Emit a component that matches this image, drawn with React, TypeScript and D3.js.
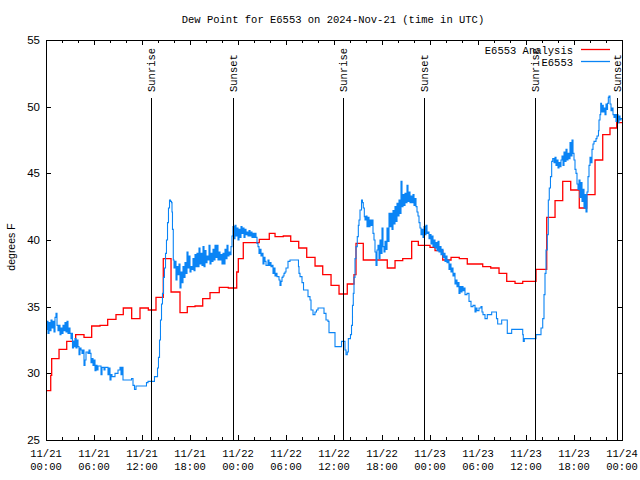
import React from "react";
import * as d3 from "d3";

const TITLE = "Dew Point for E6553 on 2024-Nov-21 (time in UTC)";
const Y_LABEL = "degrees F";
const SERIES_NAMES = ["E6553 Analysis", "E6553"];
const SERIES_COLORS = ["#ff0000", "#0a84f5"];

// hours since 2024-11-21 00:00 UTC
const X_DOMAIN = [0, 72];
const Y_DOMAIN = [25, 55];
const Y_TICKS = [25, 30, 35, 40, 45, 50, 55];
const X_LABEL_HOURS = [0, 6, 12, 18, 24, 30, 36, 42, 48, 54, 60, 66, 72];
const X_LABEL_DAYS = ["11/21", "11/21", "11/21", "11/21", "11/22", "11/22", "11/22", "11/22", "11/23", "11/23", "11/23", "11/23", "11/24"];
const X_LABEL_TIMES = ["00:00", "06:00", "12:00", "18:00", "00:00", "06:00", "12:00", "18:00", "00:00", "06:00", "12:00", "18:00", "00:00"];

const SUN_LABELS = ["Sunrise", "Sunset", "Sunrise", "Sunset", "Sunrise", "Sunset"];
const SUN_HOURS = [13.125, 23.35, 37.16, 47.29, 61.17, 71.33];

// Analysis (step) : [hour, value]
const analysis: [number, number][] = [
  [0, 28.7], [0.59, 29.85], [0.71, 31.1], [1.63, 31.8], [2.59, 32.4], [3.71, 32.9],
  [4.75, 32.7], [5.71, 33.55], [6.75, 33.6], [7.71, 34.05], [8.75, 34.4], [9.66, 34.9],
  [10.71, 34.1], [11.75, 34.9], [12.79, 34.75], [13.75, 35.7], [14.66, 38.6], [15.63, 36.1],
  [16.75, 34.55], [17.66, 35.0], [18.63, 35.05], [19.59, 35.6], [20.5, 36.05], [21.66, 36.45],
  [22.79, 36.4], [23.84, 37.6], [24.04, 38.6], [24.66, 39.8], [26.66, 40.05], [27.91, 40.5],
  [28.63, 40.25], [29.66, 40.3], [30.59, 39.9], [31.59, 39.4], [32.59, 38.7], [33.63, 38.05],
  [34.59, 37.4], [35.63, 36.6], [36.63, 35.95], [37.66, 36.7], [38.5, 37.4], [38.75, 39.75],
  [39.66, 38.5], [42.66, 37.9], [43.63, 38.45], [44.59, 38.6], [45.71, 39.9], [46.54, 39.6],
  [48.0, 39.45], [48.63, 39.2], [49.59, 38.5], [50.63, 38.7], [51.66, 38.6], [52.66, 38.2],
  [54.59, 38.0], [55.59, 37.9], [56.63, 37.5], [57.59, 36.9], [58.63, 36.75], [59.59, 36.9],
  [61.25, 37.8], [62.59, 41.7], [63.63, 42.95], [64.59, 44.4], [65.59, 43.75], [66.66, 42.4],
  [67.59, 43.4], [68.63, 46.0], [69.59, 47.9], [70.5, 48.4], [71.34, 48.8], [72, 48.8],
];

// Observations : [hour, value]
const observed: [number, number][] = [
  [0, 33.3], [0.125, 33.9], [0.25, 33.0], [0.375, 33.8], [0.5, 33.2], [0.625, 34.0], [0.75, 33.4],
  [0.875, 33.9], [1.0, 33.1], [1.125, 34.2], [1.25, 34.5], [1.375, 33.6], [1.5, 33.2], [1.625, 33.6],
  [1.75, 32.9], [1.875, 33.4], [2.0, 33.0], [2.125, 33.6], [2.25, 33.2], [2.375, 33.8], [2.5, 33.1],
  [2.625, 33.9], [2.75, 33.0], [2.875, 33.4], [3.0, 33.0], [3.125, 32.6], [3.25, 33.0], [3.31, 31.9],
  [3.44, 32.4], [3.5, 32.0], [3.625, 32.6], [3.75, 31.9], [3.875, 32.5], [4.0, 32.0], [4.125, 31.4],
  [4.25, 31.9], [4.375, 31.75], [4.5, 31.5], [4.625, 31.75], [4.75, 30.6], [4.875, 31.0], [5.0, 31.6],
  [5.25, 31.5], [5.375, 31.75], [5.5, 31.5], [5.625, 30.8], [5.75, 31.1], [5.875, 30.6], [6.0, 31.0],
  [6.125, 30.2], [6.25, 30.6], [6.375, 30.25], [6.5, 30.55], [6.875, 29.9], [7.0, 30.45], [7.25, 30.25],
  [7.375, 30.45], [7.75, 29.9], [7.875, 30.4], [8.0, 29.5], [8.125, 29.9], [8.25, 29.75], [8.625, 30.0],
  [9.0, 30.25], [9.25, 30.45], [9.375, 29.9], [9.5, 30.45], [9.625, 29.5], [10.69, 29.6], [10.875, 29.1],
  [11.06, 28.8], [11.25, 29.05], [12.56, 29.3], [12.75, 29.4], [13.56, 29.75], [13.94, 30.4], [14.06, 31.2],
  [14.19, 32.5], [14.31, 34.0], [14.44, 35.2], [14.56, 36.0], [14.69, 37.2], [14.81, 37.9], [14.94, 39.0],
  [15.06, 40.0], [15.19, 41.3], [15.31, 42.4], [15.44, 43.0], [15.56, 42.9], [15.69, 42.8], [15.75, 42.1],
  [15.81, 40.8], [15.91, 38.5], [16.0, 37.9], [16.125, 38.4], [16.25, 37.0], [16.375, 38.0], [16.5, 37.4],
  [16.625, 38.2], [16.75, 36.4], [16.875, 37.6], [17.0, 36.8], [17.125, 38.0], [17.25, 37.2], [17.375, 38.3],
  [17.5, 37.5], [17.625, 39.1], [17.75, 37.9], [17.875, 38.8], [18.0, 37.6], [18.125, 38.0], [18.25, 37.8],
  [18.375, 38.6], [18.5, 37.7], [18.625, 38.9], [18.75, 38.0], [18.875, 39.0], [19.0, 38.0], [19.125, 39.4],
  [19.25, 38.2], [19.375, 39.0], [19.5, 38.1], [19.625, 39.5], [19.75, 38.0], [19.875, 39.2], [20.0, 38.3],
  [20.125, 38.8], [20.25, 38.5], [20.375, 39.6], [20.5, 38.2], [20.625, 39.0], [20.75, 38.4], [20.875, 39.3],
  [21.0, 38.5], [21.125, 39.6], [21.25, 38.7], [21.375, 39.6], [21.5, 38.5], [21.625, 39.1], [21.75, 38.5],
  [21.875, 38.9], [22.0, 38.2], [22.125, 39.0], [22.25, 38.2], [22.375, 39.3], [22.5, 38.6], [22.625, 39.6],
  [22.75, 38.8], [22.875, 39.1], [23.0, 38.9], [23.125, 39.5], [23.25, 40.3], [23.375, 41.0], [23.5, 40.1],
  [23.625, 41.1], [23.75, 40.3], [23.875, 40.9], [24.0, 40.0], [24.125, 40.8], [24.25, 40.2], [24.375, 41.0],
  [24.5, 40.5], [24.625, 40.9], [24.75, 40.2], [24.875, 40.8], [25.0, 40.4], [25.125, 40.6], [25.25, 40.3],
  [25.375, 40.7], [25.5, 40.3], [25.625, 40.6], [25.75, 40.2], [25.875, 40.5], [26.0, 40.2], [26.125, 40.5],
  [26.25, 40.2], [26.375, 39.75], [26.5, 39.5], [26.625, 39.0], [26.75, 39.3], [26.875, 38.8], [27.0, 39.0],
  [27.125, 38.2], [27.25, 38.7], [27.375, 38.4], [27.5, 38.1], [27.75, 38.5], [27.875, 38.1], [28.0, 38.3],
  [28.125, 38.0], [28.25, 38.1], [28.375, 37.5], [28.5, 37.9], [28.625, 37.3], [28.75, 37.5], [28.875, 37.25],
  [29.125, 37.0], [29.25, 36.6], [29.375, 36.9], [29.5, 37.2], [29.625, 37.3], [29.75, 37.5], [29.875, 37.6],
  [30.0, 37.9], [30.25, 38.4], [30.5, 38.5], [31.56, 38.0], [31.625, 37.5], [31.75, 37.25], [32.0, 36.8],
  [32.19, 36.25], [32.75, 35.75], [33.0, 35.5], [33.125, 34.75], [33.375, 34.4], [33.625, 34.6], [33.81, 34.75],
  [34.0, 34.9], [34.75, 34.5], [35.0, 34.0], [35.25, 33.9], [35.375, 33.05], [36.125, 32.0], [36.94, 32.4],
  [37.375, 31.75], [37.5, 31.4], [37.66, 31.6], [37.79, 32.6], [38.06, 32.9], [38.19, 33.6], [38.31, 35.1],
  [38.41, 36.0], [38.5, 37.2], [38.625, 38.6], [38.75, 39.5], [38.91, 40.25], [39.04, 41.1], [39.125, 41.5],
  [39.25, 42.25], [39.44, 43.0], [39.56, 42.8], [39.66, 42.4], [39.79, 41.75], [39.875, 41.5], [40.0, 41.8],
  [40.125, 41.0], [40.25, 41.7], [40.375, 41.0], [40.5, 41.5], [40.625, 41.1], [40.75, 41.5], [40.875, 40.5],
  [41.0, 40.0], [41.125, 39.1], [41.25, 38.1], [41.375, 39.25], [41.5, 39.6], [41.625, 38.6], [41.75, 40.0],
  [41.875, 39.0], [42.0, 40.9], [42.125, 39.5], [42.25, 39.1], [42.375, 39.9], [42.5, 39.3], [42.625, 40.9],
  [42.75, 39.9], [42.875, 42.0], [43.0, 41.0], [43.125, 42.0], [43.25, 40.8], [43.375, 42.2], [43.5, 41.2],
  [43.625, 42.5], [43.75, 41.4], [43.875, 42.75], [44.0, 41.8], [44.125, 43.0], [44.25, 42.0], [44.375, 44.4],
  [44.5, 42.5], [44.625, 43.4], [44.75, 42.6], [44.875, 43.5], [45.0, 42.8], [45.125, 44.1], [45.25, 42.9],
  [45.375, 43.6], [45.5, 42.8], [45.625, 43.3], [45.75, 42.8], [45.875, 43.4], [46.0, 42.6], [46.125, 43.1],
  [46.25, 42.5], [46.375, 42.1], [46.5, 41.8], [46.625, 41.3], [46.75, 40.9], [46.875, 40.4], [47.0, 40.8],
  [47.125, 40.2], [47.25, 41.0], [47.375, 40.4], [47.5, 41.1], [47.625, 40.5], [47.75, 40.6], [47.875, 40.1],
  [48.0, 40.4], [48.125, 39.7], [48.25, 40.3], [48.375, 39.5], [48.5, 40.0], [48.625, 39.4], [48.75, 39.8],
  [48.875, 39.2], [49.0, 39.9], [49.125, 39.1], [49.25, 39.5], [49.375, 38.9], [49.5, 39.3], [49.625, 38.7],
  [49.75, 39.0], [49.875, 38.4], [50.0, 38.8], [50.125, 38.3], [50.25, 38.5], [50.375, 37.8], [50.5, 38.2],
  [50.625, 37.6], [50.75, 37.9], [50.875, 37.3], [51.0, 37.5], [51.125, 36.7], [51.25, 37.0], [51.375, 36.5],
  [51.5, 36.8], [51.625, 36.0], [51.75, 36.5], [51.875, 36.1], [52.0, 36.5], [52.125, 36.2], [52.25, 36.4],
  [52.375, 35.9], [52.625, 36.0], [52.875, 35.4], [53.125, 35.0], [53.375, 35.1], [53.625, 34.6], [53.75, 34.9],
  [53.875, 34.7], [54.125, 34.9], [54.375, 35.0], [54.5, 34.6], [54.625, 34.4], [54.875, 34.1], [55.16, 34.4],
  [55.71, 34.6], [56.31, 34.1], [56.46, 33.7], [56.96, 34.0], [57.66, 33.0], [58.21, 33.3], [59.59, 32.9],
  [59.66, 32.4], [59.79, 32.6], [61.25, 32.9], [61.875, 33.4], [62.09, 34.1], [62.25, 35.9], [62.375, 37.5],
  [62.5, 39.25], [62.66, 40.4], [62.79, 43.0], [62.91, 43.9], [63.06, 44.75], [63.21, 45.9], [63.34, 46.1],
  [63.5, 45.8], [63.625, 46.2], [63.75, 45.6], [63.875, 46.0], [64.0, 45.4], [64.125, 45.8], [64.25, 45.5],
  [64.375, 46.0], [64.5, 46.3], [64.625, 45.6], [64.75, 46.6], [64.875, 45.9], [65.0, 46.8], [65.125, 46.0],
  [65.25, 46.5], [65.375, 46.1], [65.5, 47.3], [65.625, 46.3], [65.75, 47.5], [65.875, 46.5], [66.0, 46.0],
  [66.125, 45.3], [66.25, 45.0], [66.375, 44.2], [66.5, 43.8], [66.625, 44.5], [66.75, 43.2], [66.875, 44.3],
  [67.0, 42.9], [67.125, 43.8], [67.25, 42.4], [67.375, 43.4], [67.5, 42.1], [67.625, 43.6], [67.75, 44.75],
  [67.875, 45.6], [68.0, 46.2], [68.125, 45.8], [68.25, 46.8], [68.375, 47.2], [68.5, 47.4], [68.75, 47.6],
  [68.875, 47.8], [69.06, 48.2], [69.125, 49.0], [69.25, 49.4], [69.34, 50.25], [69.44, 49.6], [69.56, 50.1],
  [69.66, 49.6], [69.75, 49.9], [69.875, 49.4], [70.0, 50.2], [70.125, 49.8], [70.19, 50.25], [70.29, 50.7],
  [70.375, 50.8], [70.5, 50.2], [70.625, 49.7], [70.75, 49.9], [70.875, 49.4], [71.0, 49.2], [71.125, 49.4],
  [71.25, 48.9], [71.375, 49.4], [71.5, 48.8], [71.625, 49.3], [71.75, 49.0], [71.875, 49.1], [72, 49.1],
];

const W = 640;
const H = 480;
const M = { left: 46, right: 18, top: 40, bottom: 40 };
const MONO = "'Liberation Mono', 'DejaVu Sans Mono', monospace";
const SANS = "'Liberation Sans', Arial, sans-serif";

export default function App() {
  const x = d3.scaleLinear().domain(X_DOMAIN).range([M.left, W - M.right]);
  const y = d3.scaleLinear().domain(Y_DOMAIN).range([H - M.bottom, M.top]);
  const line = d3
    .line<[number, number]>()
    .x((d) => x(d[0]))
    .y((d) => y(d[1]))
    .curve(d3.curveStepAfter);

  const x0 = x(X_DOMAIN[0]);
  const x1 = x(X_DOMAIN[1]);
  const yTop = y(Y_DOMAIN[1]);
  const yBot = y(Y_DOMAIN[0]);
  const minorHours = d3.range(X_DOMAIN[0], X_DOMAIN[1] + 0.001, 2);

  return (
    <svg width={W} height={H} style={{ display: "block", position: "absolute", left: 0, top: 0, background: "#fff" }}>
      <rect x={0} y={0} width={W} height={H} fill="#fff" />
      <text x={333} y={23} textAnchor="middle" fontFamily={MONO} fontSize={10.5} fill="#000">
        {TITLE}
      </text>

      <defs>
        <clipPath id="plotclip">
          <rect x={x0} y={yTop} width={x1 - x0} height={yBot - yTop} />
        </clipPath>
      </defs>

      {/* data */}
      <g clipPath="url(#plotclip)">
        <path d={line(analysis) || ""} fill="none" stroke={SERIES_COLORS[0]} strokeWidth={1.3} />
        <path d={line(observed) || ""} fill="none" stroke={SERIES_COLORS[1]} strokeWidth={1.1} />
      </g>

      {/* sunrise / sunset */}
      {SUN_HOURS.map((h, i) => (
        <g key={"sun" + i}>
          <line x1={Math.round(x(h)) + 0.5} x2={Math.round(x(h)) + 0.5} y1={98} y2={yBot} stroke="#000" strokeWidth={1} />
          <text
            transform={`translate(${Math.round(x(h)) + 0.5},92) rotate(-90)`}
            textAnchor="start"
            dominantBaseline="central"
            fontFamily={MONO}
            fontSize={10.5}
            fill="#000"
          >
            {SUN_LABELS[i]}
          </text>
        </g>
      ))}

      {/* frame */}
      <rect x={x0 + 0.5} y={yTop + 0.5} width={x1 - x0} height={yBot - yTop} fill="none" stroke="#000" strokeWidth={1} />

      {/* x ticks */}
      {minorHours.map((h) => {
        const len = h % 6 === 0 ? 5 : 3;
        const px = Math.round(x(h)) + 0.5;
        return (
          <g key={"xt" + h}>
            <line x1={px} x2={px} y1={yBot} y2={yBot - len} stroke="#000" />
            <line x1={px} x2={px} y1={yTop} y2={yTop + len} stroke="#000" />
          </g>
        );
      })}
      {X_LABEL_HOURS.map((h, i) => (
        <g key={"xl" + h}>
          <text x={x(h)} y={457} textAnchor="middle" fontFamily={MONO} fontSize={10.5} fill="#000">
            {X_LABEL_DAYS[i]}
          </text>
          <text x={x(h)} y={470} textAnchor="middle" fontFamily={MONO} fontSize={10.5} fill="#000">
            {X_LABEL_TIMES[i]}
          </text>
        </g>
      ))}

      {/* y ticks */}
      {Y_TICKS.map((v) => {
        const py = Math.round(y(v)) + 0.5;
        return (
          <g key={"yt" + v}>
            <line x1={x0} x2={x0 + 5} y1={py} y2={py} stroke="#000" />
            <line x1={x1} x2={x1 - 5} y1={py} y2={py} stroke="#000" />
            <text x={40} y={y(v)} dy="0.36em" textAnchor="end" fontFamily={SANS} fontSize={11.5} fill="#000">
              {v}
            </text>
          </g>
        );
      })}
      <text
        transform={`translate(11,${(yTop + yBot) / 2 + 7}) rotate(-90)`}
        textAnchor="middle"
        dominantBaseline="central"
        fontFamily={SANS}
        fontSize={10.5}
        fill="#000"
      >
        {Y_LABEL}
      </text>

      {/* legend */}
      {SERIES_NAMES.map((name, i) => (
        <g key={"lg" + i}>
          <text x={573} y={54 + i * 12} textAnchor="end" fontFamily={MONO} fontSize={10.5} fill="#000">
            {name}
          </text>
          <line x1={581} x2={610} y1={49.5 + i * 12} y2={49.5 + i * 12} stroke={SERIES_COLORS[i]} strokeWidth={1.3} />
        </g>
      ))}
    </svg>
  );
}
